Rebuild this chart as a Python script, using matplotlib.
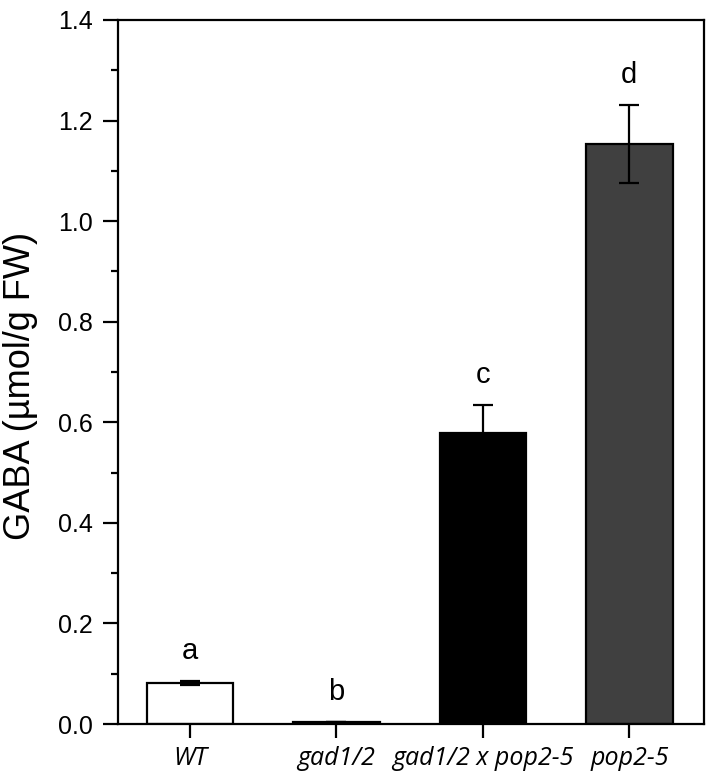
import matplotlib.pyplot as plt
from matplotlib.ticker import MultipleLocator

genotypes = ["WT", "gad1/2", "gad1/2 x pop2-5", "pop2-5"]
gaba = [0.081, 0.003, 0.579, 1.153]
gaba_err = [0.004, 0.0, 0.056, 0.078]
letters = ["a", "b", "c", "d"]
colors = ["white", "white", "black", "#404040"]

plt.rcParams['font.family'] = ['Liberation Sans', 'DejaVu Sans']

fig = plt.figure(figsize=(7.08, 7.8), dpi=100)
ax = fig.add_axes([118 / 708, 56 / 780, 586 / 708, 704 / 780])

x = list(range(len(genotypes)))
ax.bar(x, gaba, width=0.59, color=colors, edgecolor="black", linewidth=1.6, zorder=2)
ax.errorbar(x, gaba, yerr=gaba_err, fmt="none", ecolor="black", elinewidth=1.6,
            capsize=7, capthick=1.6, zorder=3)

for xi, v, e, lab in zip(x, gaba, gaba_err, letters):
    ax.text(xi, v + e + 0.032, lab, ha="center", va="bottom", fontsize=21)

ax.set_xlim(-0.49, 3.51)
ax.set_ylim(0, 1.4)
ax.yaxis.set_major_locator(MultipleLocator(0.2))
ax.yaxis.set_minor_locator(MultipleLocator(0.1))
ax.yaxis.set_major_formatter(plt.FormatStrFormatter("%.1f"))
ax.set_xticks(x)
ax.set_xticklabels(genotypes, fontstyle="italic", fontsize=18, family=["Open Sans", "DejaVu Sans"])
ax.tick_params(axis="y", which="major", direction="out", length=11, width=1.6, labelsize=18, pad=7)
ax.tick_params(axis="y", which="minor", direction="out", length=5, width=1.6)
ax.tick_params(axis="x", which="major", direction="out", length=10, width=1.6, pad=6)
for s in ax.spines.values():
    s.set_linewidth(1.6)

ax.set_ylabel("GABA (\u00b5mol/g FW)", fontsize=26)
ax.yaxis.set_label_coords(-0.137, 0.48)

fig.savefig("out.png", dpi=100)
